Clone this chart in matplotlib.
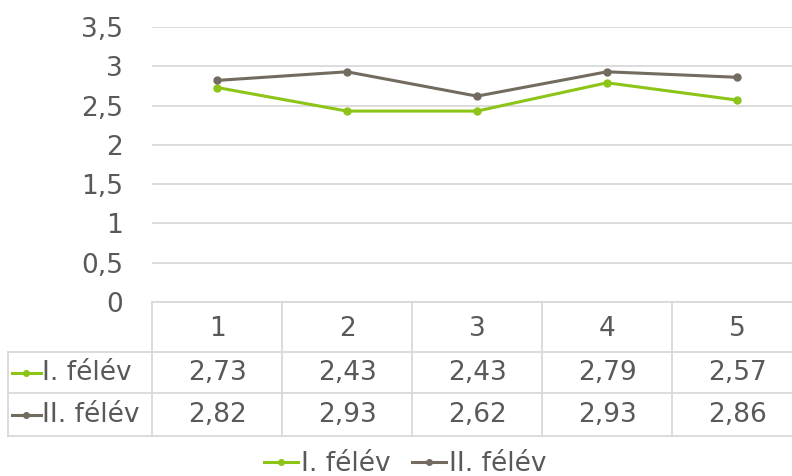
import numpy as np
import matplotlib.pyplot as plt
from matplotlib.lines import Line2D

categories = ['1', '2', '3', '4', '5']
series_names = ['I. félév', 'II. félév']
felev1 = [2.73, 2.43, 2.43, 2.79, 2.57]
felev2 = [2.82, 2.93, 2.62, 2.93, 2.86]
yticks = [0, 0.5, 1, 1.5, 2, 2.5, 3, 3.5]

green = '#8CC418'
brown = '#736B60'
txt = '#595959'
gridc = '#D9D9D9'
fs = 19
plt.rcParams['font.family'] = ['DejaVu Sans']

W, H = 792, 476
fig = plt.figure(figsize=(W / 100, H / 100), dpi=100)

def px(x0, y0, x1, y1):
    return [x0 / W, 1 - y1 / H, (x1 - x0) / W, (y1 - y0) / H]

# main plot: column boundaries 152..802 px, 0 at y=302, 3.5 at y=27
ax = fig.add_axes(px(152, 27, 802, 302))
x = np.arange(len(categories)) + 0.5
ax.plot(x, felev1, color=green, lw=2.2, marker='o', ms=5, zorder=3)
ax.plot(x, felev2, color=brown, lw=2.2, marker='o', ms=5, zorder=3)
ax.set_xlim(0, 5)
ax.set_ylim(0, 3.5)
ax.set_yticks(yticks)
ax.set_yticklabels([('%g' % v).replace('.', ',') for v in yticks], color=txt, fontsize=fs)
ax.tick_params(axis='y', length=0, pad=21)
ax.set_xticks([])
ax.grid(axis='y', color=gridc, lw=1.3)
for s in ax.spines.values():
    s.set_visible(False)
ax.set_facecolor('none')

# data table below the plot
tb = fig.add_axes(px(8, 302, 802, 436))
lab_w = 144 / 130
tb.set_xlim(-lab_w, 5)
tb.set_ylim(434, 302)
tb.axis('off')
rows = [302, 351, 392, 434]
kw = dict(color=gridc, lw=1.3, clip_on=False)
tb.plot([0, 5], [rows[0], rows[0]], **kw)
for r in rows[1:]:
    tb.plot([-lab_w, 5], [r, r], **kw)
for c in range(0, 6):
    tb.plot([c, c], [rows[0], rows[3]], **kw)
tb.plot([-lab_w, -lab_w], [rows[1], rows[3]], **kw)

for i, c in enumerate(categories):
    tb.text(i + 0.5, (rows[0] + rows[1]) / 2 + 2, c, ha='center', va='center', color=txt, fontsize=fs)
for r, (name, vals, col) in enumerate(zip(series_names, [felev1, felev2], [green, brown])):
    yc = (rows[r + 1] + rows[r + 2]) / 2
    tb.plot([-lab_w + 0.03, -lab_w + 0.25], [yc, yc], color=col, lw=2.2, clip_on=False)
    tb.plot([-lab_w + 0.14], [yc], color=col, marker='o', ms=4, clip_on=False)
    tb.text(-lab_w + 0.26, yc, name, ha='left', va='center', color=txt, fontsize=fs)
    for i, v in enumerate(vals):
        tb.text(i + 0.5, yc, ('%.2f' % v).replace('.', ','), ha='center', va='center',
                color=txt, fontsize=fs)

handles = [Line2D([], [], color=green, lw=2.2, marker='o', ms=4),
           Line2D([], [], color=brown, lw=2.2, marker='o', ms=4)]
fig.legend(handles, series_names, loc='center', bbox_to_anchor=(405 / W, 1 - 464 / H),
           ncol=2, frameon=False, fontsize=fs, labelcolor=txt, handlelength=1.3,
           handletextpad=0.1, columnspacing=0.8)

fig.savefig('out.png', dpi=100)
